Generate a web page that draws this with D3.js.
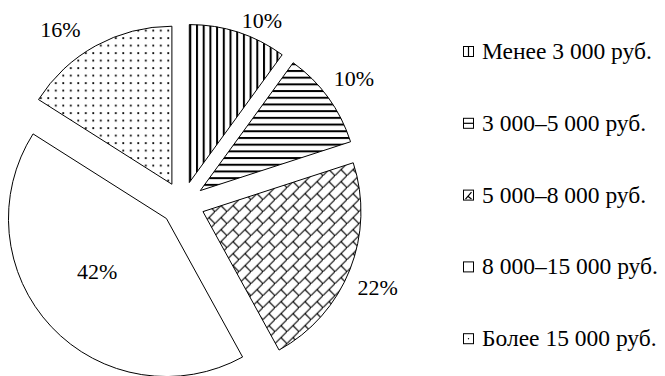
<!DOCTYPE html>
<html><head><meta charset="utf-8"><script src="https://cdn.jsdelivr.net/npm/d3@7"></script></head>
<body style="margin:0;background:#fff">
<svg id="s" width="665" height="376"></svg>
<script>
var categories = [
  "Менее 3 000 руб.",
  "3 000–5 000 руб.",
  "5 000–8 000 руб.",
  "8 000–15 000 руб.",
  "Более 15 000 руб."
];
var shares = [10, 10, 22, 42, 16];
var fills = ["vert", "horiz", "brick", "none", "dots"];

// layout
var cx = 182.5,
  cy = 203.5,
  radius = 158,
  explode = 22,
  labelSize = 22,
  legendSize = 23.5,
  fontFam = "'Liberation Serif', 'Times New Roman', Tinos, serif";

// excel moved a few labels off the plain radial spot
var labelNudge = [[14, 19], [0, 0], [-2, 6], [-6, -6], [-20, 12]];

var svg = d3.select("#s");
var defs = svg.append("defs");

var pVert = defs.append("pattern")
  .attr("id", "vert").attr("patternUnits", "userSpaceOnUse")
  .attr("width", 6.7).attr("height", 10);
pVert.append("rect").attr("width", 6.7).attr("height", 10).attr("fill", "#fff");
pVert.append("line").attr("x1", 1).attr("x2", 1).attr("y1", 0).attr("y2", 10)
  .attr("stroke", "#000").attr("stroke-width", 2);

var pHoriz = defs.append("pattern")
  .attr("id", "horiz").attr("patternUnits", "userSpaceOnUse")
  .attr("width", 10).attr("height", 6.7);
pHoriz.append("rect").attr("width", 10).attr("height", 6.7).attr("fill", "#fff");
pHoriz.append("line").attr("x1", 0).attr("x2", 10).attr("y1", 1).attr("y2", 1)
  .attr("stroke", "#000").attr("stroke-width", 2);

var pBrick = defs.append("pattern")
  .attr("id", "brick").attr("patternUnits", "userSpaceOnUse")
  .attr("width", 12).attr("height", 12);
pBrick.append("rect").attr("width", 12).attr("height", 12).attr("fill", "#fff");
pBrick.append("path")
  .attr("d", "M-1,13L13,-1M6,6L13,13")
  .attr("stroke", "#000").attr("stroke-width", 1.1).attr("fill", "none");

var pDots = defs.append("pattern")
  .attr("id", "dots").attr("patternUnits", "userSpaceOnUse")
  .attr("width", 7.5).attr("height", 7.5);
pDots.append("rect").attr("width", 7.5).attr("height", 7.5).attr("fill", "#fff");
pDots.append("rect").attr("x", 3).attr("y", 3).attr("width", 1.8).attr("height", 1.8)
  .attr("fill", "#000");

var pie = d3.pie().sort(null).value(function (d) { return d; });
var arc = d3.arc().innerRadius(0).outerRadius(radius);
var slices = pie(shares);

function midAngle(d) {
  return (d.startAngle + d.endAngle) / 2;
}
function apex(d) {
  var a = midAngle(d);
  return [cx + Math.sin(a) * explode, cy - Math.cos(a) * explode];
}
function labelPos(d, i) {
  var a = midAngle(d), p = apex(d);
  var r = d.data > 30 ? radius * 0.55 : radius + 32;
  return [p[0] + Math.sin(a) * r + labelNudge[i][0], p[1] - Math.cos(a) * r + labelNudge[i][1] + 7];
}

svg.selectAll("path.slice")
  .data(slices)
  .join("path")
  .attr("class", "slice")
  .attr("transform", function (d) { return "translate(" + apex(d) + ")"; })
  .attr("d", arc)
  .attr("fill", function (d, i) { return fills[i] === "none" ? "#fff" : "url(#" + fills[i] + ")"; })
  .attr("stroke", "#000")
  .attr("stroke-width", 1);

// legend keys
var legendX = 463,
  legendTop = 59,
  legendStep = 71.8,
  key = 10;

svg.selectAll("rect.key")
  .data(categories)
  .join("rect")
  .attr("class", "key")
  .attr("x", legendX + 0.5)
  .attr("y", function (d, i) { return legendTop + i * legendStep - 12.5; })
  .attr("width", key).attr("height", key)
  .attr("fill", "#fff").attr("stroke", "#000").attr("stroke-width", 1);

svg.selectAll("path.keymark")
  .data(categories)
  .join("path")
  .attr("class", "keymark")
  .attr("fill", "none").attr("stroke", "#000").attr("stroke-width", 1.2)
  .attr("d", function (d, i) {
    var x0 = legendX + 0.5, y0 = legendTop + i * legendStep - 12.5, m = key / 2;
    if (fills[i] === "vert") return "M" + (x0 + m) + "," + y0 + "V" + (y0 + key);
    if (fills[i] === "horiz") return "M" + x0 + "," + (y0 + m) + "H" + (x0 + key);
    if (fills[i] === "brick") return "M" + (x0 + 2) + "," + (y0 + key - 1) + "L" + (x0 + key - 2) + "," + (y0 + 2) +
      "M" + (x0 + m - 1) + "," + (y0 + m + 1) + "L" + (x0 + key - 2) + "," + (y0 + key - 1);
    if (fills[i] === "dots") return "M" + (x0 + m - 0.6) + "," + (y0 + m) + "h1.2";
    return null;
  });

var pct = svg.selectAll("text.pct")
  .data(slices)
  .join("text")
  .attr("class", "pct")
  .attr("text-anchor", "middle")
  .attr("x", function (d, i) { return labelPos(d, i)[0]; })
  .attr("y", function (d, i) { return labelPos(d, i)[1]; })
  .attr("font-family", fontFam)
  .attr("font-size", labelSize)
  .style("font-family", fontFam, "important")
  .style("font-size", labelSize + "px", "important")
  .text(function (d) { return d.data + "%"; });

var leg = svg.selectAll("text.leg")
  .data(categories)
  .join("text")
  .attr("class", "leg")
  .attr("x", legendX + 19)
  .attr("y", function (d, i) { return legendTop + i * legendStep; })
  .attr("font-family", fontFam)
  .attr("font-size", legendSize)
  .style("font-family", fontFam, "important")
  .style("font-size", legendSize + "px", "important")
  .text(function (d) { return d; });

// make sure the serif face is picked up once it is loaded
if (document.fonts && document.fonts.load) {
  document.fonts.load(labelSize + "px 'Liberation Serif'", "Менее 10%").then(function () {
    pct.style("font-family", fontFam, "important");
    leg.style("font-family", fontFam, "important");
  });
}
</script></body></html>
